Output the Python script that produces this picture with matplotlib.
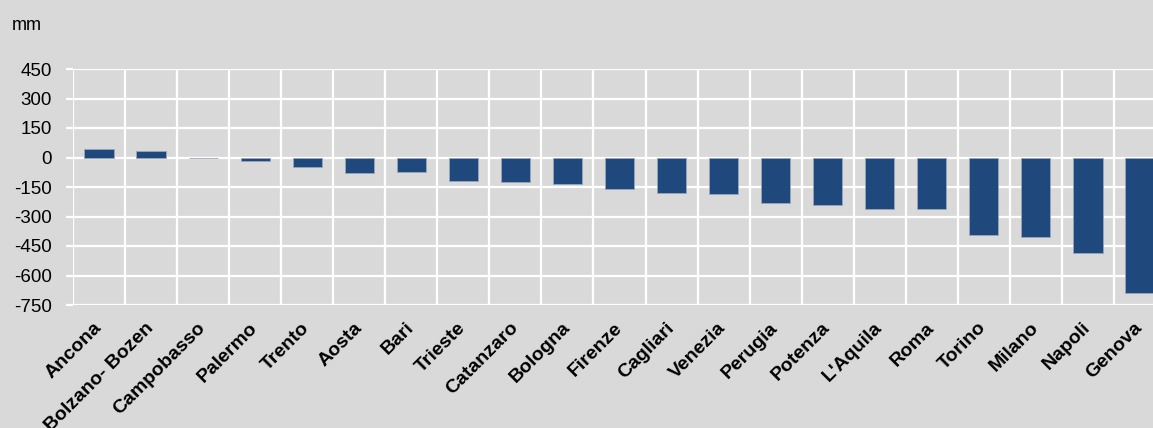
import matplotlib
matplotlib.use("Agg")
import matplotlib.pyplot as plt
import matplotlib.transforms as mtransforms
import numpy as np

# Cities and values (mm)
cities = ["Ancona", "Bolzano- Bozen", "Campobasso", "Palermo", "Trento", "Aosta",
          "Bari", "Trieste", "Catanzaro", "Bologna", "Firenze", "Cagliari",
          "Venezia", "Perugia", "Potenza", "L'Aquila", "Roma", "Torino",
          "Milano", "Napoli", "Genova"]
values = [45, 35, -5, -18, -47, -78, -76, -117, -127, -137, -158, -178,
          -188, -229, -239, -260, -260, -392, -403, -485, -688]
yticks = [450, 300, 150, 0, -150, -300, -450, -600, -750]

bg = "#d9d9d9"
bar_color = "#1f487c"

plt.rcParams['font.family'] = ['Liberation Sans', 'DejaVu Sans']

fig = plt.figure(figsize=(11.53, 4.28), dpi=100, facecolor=bg)
W, H = 1153, 428
# plot area in pixels: x 73..1166 (runs past the right edge), y 69..305
ax = fig.add_axes([73 / W, (H - 305) / H, (1166 - 73) / W, (305 - 69) / H])
ax.set_facecolor(bg)

x = np.arange(len(cities))
ax.bar(x, values, width=0.56, color=bar_color, edgecolor="#9aa6b8",
       linewidth=0.6, zorder=3)

ax.set_xlim(-0.5, len(cities) - 0.5)
ax.set_ylim(-750, 450)
ax.set_yticks(yticks)
ax.set_yticklabels([str(v) for v in yticks], fontsize=13.5)

# vertical grid lines between categories
ax.set_xticks(x - 0.5, minor=True)
ax.set_xticks(x)
ax.set_xticklabels(cities, rotation=45, ha="right", rotation_mode="anchor",
                   fontsize=14, fontweight="bold")
ax.tick_params(axis="x", which="both", length=0, pad=6)
ax.tick_params(axis="y", length=5, width=1.6, color="white", pad=10)

# nudge the rotated labels, as in the original
shift = mtransforms.ScaledTranslation(-6 / 100, -6 / 100, fig.dpi_scale_trans)
for lab in ax.get_xticklabels():
    lab.set_transform(lab.get_transform() + shift)

ax.grid(True, axis="y", which="major", color="white", linewidth=1.6, zorder=0)
ax.grid(True, axis="x", which="minor", color="white", linewidth=1.6, zorder=0)
ax.grid(False, axis="x", which="major")

for s in ax.spines.values():
    s.set_visible(False)

fig.text(12 / W, 1 - 25 / H, "mm", fontsize=13, va="center", ha="left")

plt.savefig("out.png", dpi=100, facecolor=bg)
